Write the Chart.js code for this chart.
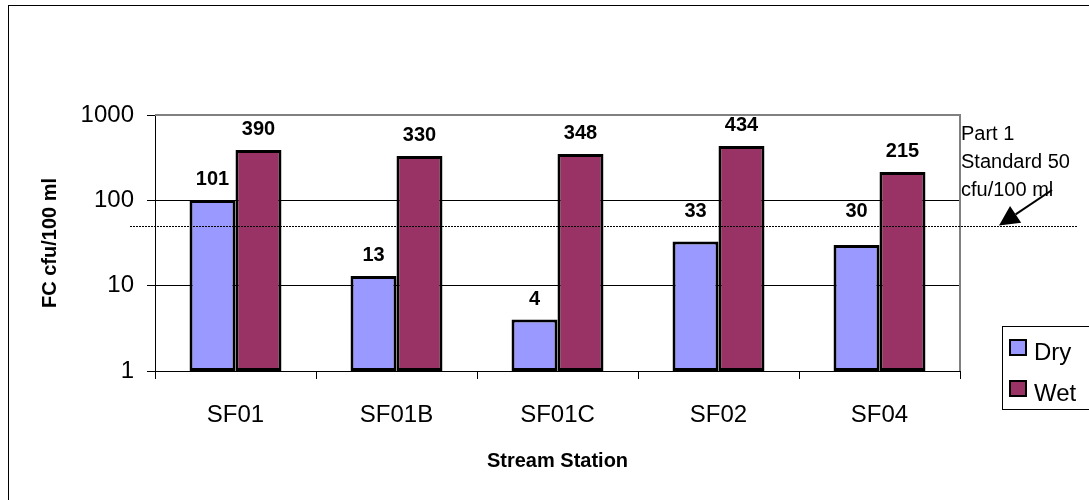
<!DOCTYPE html>
<html>
<head>
<meta charset="utf-8">
<script src="https://cdn.jsdelivr.net/npm/chart.js@4.4.1/dist/chart.umd.min.js"></script>
<style>
  html, body { margin: 0; padding: 0; background: #fff; }
  #wrap { width: 1089px; height: 500px; }
</style>
</head>
<body>
<div id="wrap"><canvas id="chart" width="1089" height="500"></canvas></div>
<script>
// Chart data
const stations = ["SF01", "SF01B", "SF01C", "SF02", "SF04"]
const dryValues = [101, 13, 4, 33, 30]
const wetValues = [390, 330, 348, 434, 215]
const yTicks = [1, 10, 100, 1000]
const standardValue = 50
const standardText = ["Part 1", "Standard 50", "cfu/100 ml"]

const FONT = "'Liberation Sans', Arial, sans-serif"

// Outer frame, only top and left show inside the picture
let framePlugin = {
  id: "frame",
  beforeDraw(chart) {
    const ctx = chart.ctx
    ctx.save()
    ctx.fillStyle = "#fff"
    ctx.fillRect(0, 0, chart.width, chart.height)
    ctx.strokeStyle = "#000"
    ctx.lineWidth = 1
    ctx.strokeRect(8.5, 5.5, chart.width + 20, chart.height + 20)
    ctx.restore()
  }
}

// Gray border on top/right of the plot area
let plotBorder = {
  id: "plotBorder",
  beforeDatasetsDraw(chart) {
    const {ctx, chartArea: a} = chart
    ctx.save()
    ctx.strokeStyle = "#808080"
    ctx.lineWidth = 2
    ctx.beginPath()
    ctx.moveTo(a.left, a.top)
    ctx.lineTo(a.right, a.top)
    ctx.lineTo(a.right, a.bottom)
    ctx.stroke()
    ctx.restore()
  }
}

// Value labels, standard line, arrow note, axis titles, legend
let extras = {
  id: "extras",
  afterDatasetsDraw(chart) {
    const {ctx, chartArea: a, scales} = chart
    const lineY = Math.round(scales.y.getPixelForValue(standardValue)) + 0.5

    ctx.save()
    // dotted standard line
    ctx.strokeStyle = "#000"
    ctx.lineWidth = 1
    ctx.setLineDash([2, 1])
    ctx.beginPath()
    ctx.moveTo(a.left - 25, lineY)
    ctx.lineTo(a.right + 117, lineY)
    ctx.stroke()
    ctx.setLineDash([])

    // value labels
    ctx.fillStyle = "#000"
    ctx.font = "bold 20px " + FONT
    ctx.textAlign = "center"
    ctx.textBaseline = "alphabetic"
    chart.data.datasets.forEach((ds, i) => {
      chart.getDatasetMeta(i).data.forEach((bar, j) => {
        let base = bar.y - 15
        // lift labels that would sit on the dotted line
        if (base > lineY - 4 && base < lineY + 16) base = lineY - 10
        ctx.fillText(String(ds.data[j]), bar.x, base)
      })
    })

    // note text
    ctx.font = "20px " + FONT
    ctx.textAlign = "left"
    standardText.forEach((t, i) => ctx.fillText(t, a.right + 1, 140 + i * 28))

    // arrow
    const tipX = a.right + 39, tipY = lineY - 1
    const fromX = a.right + 92, fromY = 190
    const ang = Math.atan2(tipY - fromY, tipX - fromX)
    const hl = 20, hw = 10
    ctx.strokeStyle = "#000"
    ctx.lineWidth = 2
    ctx.beginPath()
    ctx.moveTo(fromX, fromY)
    ctx.lineTo(tipX - Math.cos(ang) * hl, tipY - Math.sin(ang) * hl)
    ctx.stroke()
    ctx.beginPath()
    ctx.moveTo(tipX, tipY)
    ctx.lineTo(tipX - Math.cos(ang) * hl + Math.sin(ang) * hw, tipY - Math.sin(ang) * hl - Math.cos(ang) * hw)
    ctx.lineTo(tipX - Math.cos(ang) * hl - Math.sin(ang) * hw, tipY - Math.sin(ang) * hl + Math.cos(ang) * hw)
    ctx.closePath()
    ctx.fill()

    // axis titles
    ctx.font = "bold 20px " + FONT
    ctx.textAlign = "center"
    ctx.textBaseline = "middle"
    ctx.fillText("Stream Station", (a.left + a.right) / 2, 461)
    ctx.save()
    ctx.translate(50, (a.top + a.bottom) / 2)
    ctx.rotate(-Math.PI / 2)
    ctx.fillText("FC cfu/100 ml", 0, 0)
    ctx.restore()

    // legend
    const lx = a.right + 42, ly = 326
    ctx.fillStyle = "#fff"
    ctx.fillRect(lx, ly, 100, 83)
    ctx.strokeStyle = "#000"
    ctx.lineWidth = 1
    ctx.strokeRect(lx + 0.5, ly + 0.5, 100, 83)
    ctx.font = "24px " + FONT
    ctx.textAlign = "left"
    ctx.textBaseline = "alphabetic"
    chart.data.datasets.forEach((ds, i) => {
      const sy = ly + 14 + i * 41
      ctx.fillStyle = ds.backgroundColor
      ctx.fillRect(lx + 8, sy, 16, 15)
      ctx.lineWidth = 2
      ctx.strokeStyle = "#000"
      ctx.strokeRect(lx + 8, sy, 16, 15)
      ctx.fillStyle = "#000"
      ctx.fillText(ds.label, lx + 32, sy + 20)
    })
    ctx.restore()
  }
}

new Chart(document.getElementById("chart"), {
  type: "bar",
  data: {
    labels: stations,
    datasets: [
      { label: "Dry", data: dryValues, backgroundColor: "#9999FF" },
      { label: "Wet", data: wetValues, backgroundColor: "#993366" }
    ]
  },
  options: {
    responsive: false,
    animation: false,
    devicePixelRatio: 1,
    layout: { padding: { top: 115, right: 129, left: 0, bottom: 0 } },
    datasets: {
      bar: {
        borderColor: "#000",
        borderWidth: 3,
        borderSkipped: false,
        barPercentage: 1,
        categoryPercentage: 0.571
      }
    },
    plugins: {
      legend: { display: false },
      tooltip: { enabled: false }
    },
    scales: {
      x: {
        offset: true,
        grid: { offset: true, drawOnChartArea: false, tickLength: 8, color: "#000" },
        border: { color: "#000", width: 1 },
        ticks: { color: "#000", font: { family: FONT, size: 24 }, padding: 22 },
        afterFit(scale) { scale.height = 129 }
      },
      y: {
        type: "logarithmic",
        min: 1,
        max: 1000,
        afterBuildTicks(scale) { scale.ticks = yTicks.map(v => ({ value: v })) },
        grid: { color: "#000", tickLength: 8 },
        border: { color: "#000", width: 1 },
        ticks: {
          color: "#000",
          font: { family: FONT, size: 24 },
          padding: 13,
          callback: v => String(v)
        },
        afterFit(scale) { scale.width = 155 }
      }
    }
  },
  plugins: [framePlugin, plotBorder, extras]
})
</script>
</body>
</html>
